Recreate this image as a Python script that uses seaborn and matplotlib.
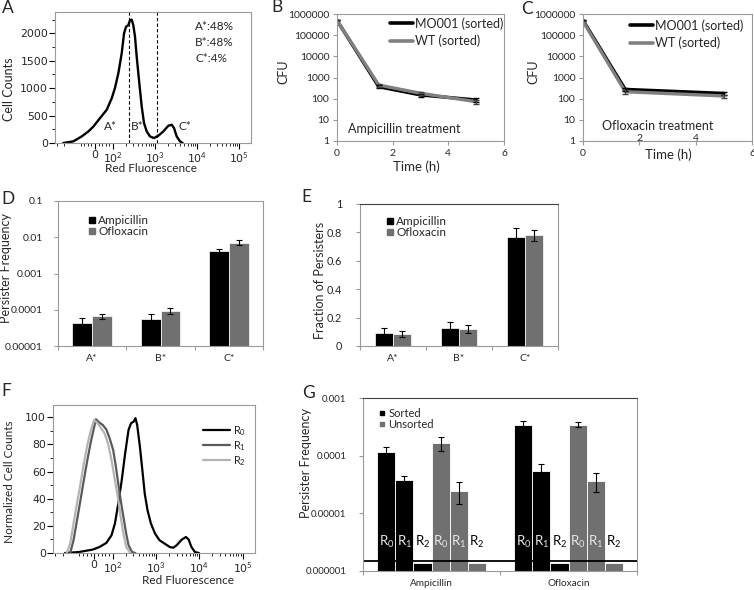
import matplotlib
matplotlib.use("Agg")
import matplotlib.pyplot as plt
import numpy as np
import pandas as pd
import seaborn as sns
from matplotlib.ticker import FixedLocator, NullLocator, MultipleLocator
from matplotlib.lines import Line2D

# ---------------- Panel A : flow histogram ----------------
a_fluor = [-212, -122, -74, -37, -9, 28, 65, 93, 111, 134, 161, 183, 204, 231,
           254, 278, 304, 334, 366, 423, 482, 547, 634, 760, 946, 1200, 1578,
           2075, 2500, 2833, 3283, 3935, 4560]
a_counts = [0, 30, 120, 210, 300, 455, 606, 818, 1000, 1273, 1636, 2000, 2120,
            2150, 2240, 2250, 2150, 1940, 1576, 1090, 666, 364, 212, 120, 90,
            133, 212, 315, 333, 273, 120, 30, 0]
a_gates = [240, 1110]
a_gate_names = ["A*", "B*", "C*"]
a_gate_pcts = ["A*:48%", "B*:48%", "C*:4%"]
flow_ticks = [0, 1e2, 1e3, 1e4, 1e5]
flow_tick_labels = ["0", "10$^2$", "10$^3$", "10$^4$", "10$^5$"]

# ---------------- Panels B, C : killing curves ----------------
strains = ["MO001 (sorted)", "WT (sorted)"]
b_time = [0, 1.5, 3, 5]
b_mo001 = [5.0e5, 365, 150, 87]
b_mo001_err = [0, 60, 25, 15]
b_wt = [5.0e5, 440, 180, 72]
b_wt_err = [0, 70, 30, 18]
c_time = [0, 1.5, 5]
c_mo001 = [5.0e5, 275, 178]
c_mo001_err = [0, 45, 25]
c_wt = [4.5e5, 213, 134]
c_wt_err = [0, 40, 22]
cfu_ticks = [1, 10, 100, 1000, 10000, 100000, 1000000]
cfu_labels = ["1", "10", "100", "1000", "10000", "100000", "1000000"]
time_ticks = [0, 2, 4, 6]

# ---------------- Panels D, E : persisters per gate ----------------
populations = ["A*", "B*", "C*"]
antibiotics = ["Ampicillin", "Ofloxacin"]
d_amp = [4.4e-5, 5.7e-5, 4.1e-3]
d_amp_err = [1.5e-5, 1.8e-5, 7e-4]
d_oflox = [6.7e-5, 9.4e-5, 7.1e-3]
d_oflox_err = [1.1e-5, 2.0e-5, 1.1e-3]
d_ticks = [1e-5, 1e-4, 1e-3, 1e-2, 1e-1]
d_labels = ["0.00001", "0.0001", "0.001", "0.01", "0.1"]
e_amp = [0.094, 0.127, 0.765]
e_amp_err = [0.03, 0.04, 0.068]
e_oflox = [0.085, 0.12, 0.78]
e_oflox_err = [0.02, 0.026, 0.04]
e_ticks = [0, 0.2, 0.4, 0.6, 0.8, 1.0]
e_labels = ["0", "0.2", "0.4", "0.6", "0.8", "1"]

# ---------------- Panel F : regrowth histograms ----------------
f_regions = ["R$_0$", "R$_1$", "R$_2$"]
f_r0_fluor = [-176, -83, -9, 28, 65, 93, 112, 134, 161, 193, 231, 264, 304, 334,
              366, 423, 482, 547, 634, 760, 946, 1200, 1578, 2075, 2500, 2983,
              3935, 4900, 5660, 6560, 7900, 9800]
f_r0_counts = [0, 0.7, 2.5, 4.4, 7.4, 13, 21.7, 36.5, 53.7, 73.4, 90.6, 95.6,
               96.8, 99.3, 94.3, 78.3, 61, 43.8, 31.5, 21.7, 14.3, 9.4, 6.9,
               4.4, 3.9, 5.7, 9.9, 11.8, 9.9, 4.4, 0.7, 0]
f_r1_fluor = [-134, -112, -93, -74, -56, -37, -18, 0, 9, 28, 46, 65, 83, 102,
              118, 134, 152, 176, 204, 231, 278, 334]
f_r1_counts = [0, 9.4, 24, 39, 53.7, 68.5, 82, 93, 98.5, 96, 94.3, 91, 84.5,
               75.9, 63.5, 51, 39, 26.6, 14.3, 5.7, 0.7, 0]
f_r2_fluor = [-161, -134, -112, -93, -74, -56, -37, -18, 0, 18, 37, 56, 74, 93,
              112, 134, 152, 176, 204, 254]
f_r2_counts = [0, 6.9, 21.7, 36.5, 51, 66, 79.6, 90.6, 98, 95.6, 92, 88, 80.8,
               68.5, 53.7, 39, 26.6, 14.3, 4.4, 0]

# ---------------- Panel G : sorted vs unsorted ----------------
g_groups = ["Sorted R0", "Sorted R1", "Sorted R2",
            "Unsorted R0", "Unsorted R1", "Unsorted R2"]
g_bar_labels = ["R$_0$", "R$_1$", "R$_2$", "R$_0$", "R$_1$", "R$_2$"]
g_amp = [1.18e-4, 3.79e-5, 1.4e-6, 1.64e-4, 2.44e-5, 1.4e-6]
g_amp_err = [2.6e-5, 6.6e-6, 0, 4.5e-5, 1.0e-5, 0]
g_oflox = [3.34e-4, 5.5e-5, 1.4e-6, 3.43e-4, 3.64e-5, 1.4e-6]
g_oflox_err = [6e-5, 1.7e-5, 0, 3.3e-5, 1.3e-5, 0]
g_limit = 1.5e-6
g_ticks = [1e-6, 1e-5, 1e-4, 1e-3]
g_labels = ["0.000001", "0.00001", "0.0001", "0.001"]
g_legend = ["Sorted", "Unsorted"]

# ---------------- style ----------------
sns.set_theme(style="ticks")
plt.rcParams["font.family"] = ["Lato", "DejaVu Sans"]
plt.rcParams["mathtext.fontset"] = "custom"
plt.rcParams["mathtext.rm"] = "Lato"
plt.rcParams["mathtext.it"] = "Lato:italic"
plt.rcParams["mathtext.bf"] = "Lato:bold"
plt.rcParams["axes.linewidth"] = 0.8

W, H = 754, 590
fig = plt.figure(figsize=(W / 100, H / 100), dpi=100)
fig.patch.set_facecolor("white")

FRAME = "#9a9a9a"
BAR_GRAY = "#707070"
LINE_GRAY = "#808080"


def px_rect(l, r, t, b):
    return [l / W, 1 - b / H, (r - l) / W, (b - t) / H]


def ftext(x, y, s, **kw):
    kw.setdefault("va", "center")
    fig.text(x / W, 1 - y / H, s, **kw)


def frame(ax, color=FRAME, top=None):
    for name, sp in ax.spines.items():
        sp.set_visible(True)
        sp.set_color(color)
        sp.set_linewidth(0.8)
    if top is not None:
        ax.spines["top"].set_color(top)


def place_ylabel(ax, text, x, y, size):
    ax.set_ylabel(text, fontsize=size)
    ax.yaxis.set_label_coords(x / W, 1 - y / H, transform=fig.transFigure)
    lab = ax.yaxis.label
    lab.set_rotation_mode("default")
    lab.set_ha("center")
    lab.set_va("center")


def place_xlabel(ax, text, x, y, size):
    ax.set_xlabel(text, fontsize=size)
    ax.xaxis.set_label_coords(x / W, 1 - y / H, transform=fig.transFigure)
    lab = ax.xaxis.label
    lab.set_ha("center")
    lab.set_va("center")


def flow_axis(ax):
    ax.set_xscale("symlog", linthresh=100, linscale=0.386)
    ax.set_xlim(-334, 1.93e5)
    ax.set_xticks(flow_ticks, flow_tick_labels)
    minor = [-300, -200, -80, -60, -40, -20, 20, 40, 60, 80] + \
        [k * 10 ** d for d in (2, 3, 4) for k in range(2, 10)]
    ax.xaxis.set_minor_locator(FixedLocator(minor))
    ax.tick_params(axis="both", which="major", direction="out", length=4,
                   width=0.8, color="black", labelsize=7.8, pad=1,
                   labelfontfamily="DejaVu Sans")
    ax.tick_params(axis="both", which="minor", direction="out", length=2,
                   width=0.6, color="black")
    frame(ax)


def add_err(ax, containers, errs):
    for cont, err in zip(containers, errs):
        xs, ys, es = [], [], []
        for bar, e in zip(cont, err):
            if e > 0:
                xs.append(bar.get_x() + bar.get_width() / 2)
                ys.append(bar.get_height())
                es.append(e)
        ax.errorbar(xs, ys, yerr=es, fmt="none", ecolor="black",
                    elinewidth=0.8, capsize=2.2, capthick=0.8)


def cat_axis(ax, n, labelsize, ypad):
    ax.tick_params(axis="x", which="major", length=0, labelsize=labelsize, pad=6)
    ax.xaxis.set_minor_locator(FixedLocator([i - 0.5 for i in range(n + 1)]))
    ax.tick_params(axis="x", which="minor", direction="out", length=3,
                   width=0.8, color=FRAME)
    ax.tick_params(axis="y", which="major", direction="out", length=3,
                   width=0.8, color=FRAME, pad=ypad)
    ax.tick_params(axis="y", which="minor", length=0)
    ax.set_xlim(-0.5, n - 0.5)


# ================= Panel A =================
axA = fig.add_axes(px_rect(55, 251, 12, 143))
sns.lineplot(x=a_fluor, y=a_counts, sort=False, estimator=None,
             color="black", lw=1.7, ax=axA)
for g in a_gates:
    axA.axvline(g, color="black", lw=0.8, ls=(0, (3, 2)))
flow_axis(axA)
axA.set_ylim(0, 2390)
axA.set_yticks([0, 500, 1000, 1500, 2000])
axA.yaxis.set_minor_locator(MultipleLocator(250))
place_ylabel(axA, "Cell Counts", 9, 89, 9)
place_xlabel(axA, "Red Fluorescence", 151, 169, 8.5)
for name, x in zip(a_gate_names, [110, 137, 185]):
    ftext(x, 127, name, fontsize=8.5, ha="center")
for i, s in enumerate(a_gate_pcts):
    ftext(195, 27 + 16 * i, s, fontsize=8.5, ha="left")


# ================= Panels B, C =================
def kill_panel(rect, t, mo, mo_err, wt, wt_err, title, title_xy, leg_xy,
               ylab_x, xlab_xy):
    ax = fig.add_axes(rect)
    df = pd.DataFrame({"time": t + t, "cfu": mo + wt,
                       "strain": [strains[0]] * len(t) + [strains[1]] * len(t)})
    sns.lineplot(data=df, x="time", y="cfu", hue="strain",
                 palette={strains[0]: "black", strains[1]: LINE_GRAY},
                 lw=2.4, estimator=None, legend=False, ax=ax)
    ax.set_yscale("log")
    ax.errorbar(t, mo, yerr=mo_err, fmt="none", ecolor="black",
                elinewidth=0.8, capsize=2)
    ax.errorbar(t, wt, yerr=wt_err, fmt="none", ecolor="#404040",
                elinewidth=0.8, capsize=2)
    ax.set_ylim(1, 1e6)
    ax.set_xlim(0, 6)
    ax.set_yticks(cfu_ticks, cfu_labels)
    ax.yaxis.set_minor_locator(NullLocator())
    ax.set_xticks(time_ticks, [str(v) for v in time_ticks])
    ax.tick_params(axis="both", which="major", direction="out", length=3,
                   width=0.8, color=FRAME, labelsize=7.5, pad=2.5)
    frame(ax)
    place_ylabel(ax, "CFU", ylab_x, 72, 9)
    place_xlabel(ax, "Time (h)", xlab_xy[0], xlab_xy[1], 9.5)
    handles = [Line2D([], [], color="black", lw=2.6),
               Line2D([], [], color=LINE_GRAY, lw=2.6)]
    ax.legend(handles, strains, loc="upper left",
              bbox_to_anchor=(leg_xy[0] / W, 1 - leg_xy[1] / H),
              bbox_transform=fig.transFigure, frameon=False, fontsize=9,
              handlelength=1.85, handletextpad=0.15, borderpad=0,
              borderaxespad=0, labelspacing=0.42)
    ftext(title_xy[0], title_xy[1], title, fontsize=9, ha="left")
    return ax


axB = kill_panel(px_rect(337, 504, 14, 141), b_time, b_mo001, b_mo001_err,
                 b_wt, b_wt_err, "Ampicillin treatment", (348, 129),
                 (390, 17), 283, (416, 167))
axC = kill_panel(px_rect(583, 752, 14, 141), c_time, c_mo001, c_mo001_err,
                 c_wt, c_wt_err, "Ofloxacin treatment", (602, 126),
                 (630, 19), 533, (668, 155))
# in the reference the "2" and "4" labels of panel C sit slightly higher
for tk in axC.xaxis.get_major_ticks()[1:3]:
    tk.set_pad(-8)


# ================= Panels D, E =================
def square_legend(ax, labels, colors, xy, size, msize):
    handles = [Line2D([], [], marker="s", ls="", color=c, markersize=msize)
               for c in colors]
    ax.legend(handles, labels, loc="upper left",
              bbox_to_anchor=(xy[0] / W, 1 - xy[1] / H),
              bbox_transform=fig.transFigure, frameon=False, fontsize=size,
              handlelength=0.6, handletextpad=0.25, borderpad=0,
              borderaxespad=0, labelspacing=0.0)


def gate_bars(rect, amp, oflox, amp_err, oflox_err, width, log):
    ax = fig.add_axes(rect)
    df = pd.DataFrame({"population": populations * 2,
                       "antibiotic": [antibiotics[0]] * 3 + [antibiotics[1]] * 3,
                       "value": amp + oflox})
    sns.barplot(data=df, x="population", y="value", hue="antibiotic",
                order=populations, hue_order=antibiotics,
                palette={antibiotics[0]: "black", antibiotics[1]: BAR_GRAY},
                width=width, errorbar=None, edgecolor="white", linewidth=0.5,
                legend=False, ax=ax)
    bars = list(ax.containers)
    if log:
        ax.set_yscale("log")
    add_err(ax, bars, [amp_err, oflox_err])
    ax.set_xlabel("")
    ax.set_ylabel("")
    return ax


axD = gate_bars(px_rect(58, 263, 201, 346), d_amp, d_oflox, d_amp_err,
                d_oflox_err, 0.58, True)
cat_axis(axD, 3, 7.5, 8)
axD.set_ylim(1e-5, 0.1)
axD.set_yticks(d_ticks, d_labels)
axD.yaxis.set_minor_locator(NullLocator())
axD.tick_params(axis="y", labelsize=7.5)
frame(axD)
place_ylabel(axD, "Persister Frequency", 6, 268, 9)
square_legend(axD, antibiotics, ["black", BAR_GRAY], (88, 215), 8.5, 5)

axE = gate_bars(px_rect(360, 558, 204, 346), e_amp, e_oflox, e_amp_err,
                e_oflox_err, 0.55, False)
cat_axis(axE, 3, 7.5, 10)
axE.set_ylim(0, 1)
axE.set_yticks(e_ticks, e_labels)
axE.tick_params(axis="y", labelsize=7.8)
frame(axE, top="#404040")
place_ylabel(axE, "Fraction of Persisters", 320, 280, 9)
square_legend(axE, antibiotics, ["black", BAR_GRAY], (386, 216), 8.5, 5)


# ================= Panel F =================
axF = fig.add_axes(px_rect(53, 255, 405, 553))
dfF = pd.DataFrame({
    "fluor": f_r0_fluor + f_r1_fluor + f_r2_fluor,
    "count": f_r0_counts + f_r1_counts + f_r2_counts,
    "region": [f_regions[0]] * len(f_r0_fluor) + [f_regions[1]] * len(f_r1_fluor)
    + [f_regions[2]] * len(f_r2_fluor)})
f_palette = {f_regions[0]: "black", f_regions[1]: "#5a5a5a",
             f_regions[2]: "#b4b4b4"}
sns.lineplot(data=dfF, x="fluor", y="count", hue="region", palette=f_palette,
             sort=False, estimator=None, lw=1.6, legend=False, ax=axF)
flow_axis(axF)
axF.set_ylim(0, 109)
axF.set_yticks([0, 20, 40, 60, 80, 100])
axF.yaxis.set_minor_locator(MultipleLocator(10))
place_ylabel(axF, "Normalized Cell Counts", 10, 482, 8.5)
place_xlabel(axF, "Red Fluorescence", 188, 580, 8.5)
handles = [Line2D([], [], color=f_palette[r], lw=1.6) for r in f_regions]
axF.legend(handles, f_regions, loc="upper left",
           bbox_to_anchor=(203 / W, 1 - 424 / H), bbox_transform=fig.transFigure,
           frameon=False, fontsize=7.8, handlelength=2.5, handletextpad=0.3,
           borderpad=0, borderaxespad=0, labelspacing=0.1)


# ================= Panel G =================
axG = fig.add_axes(px_rect(363, 637, 398, 571))
rows = []
for i, grp in enumerate(g_groups):
    rows.append({"antibiotic": antibiotics[0], "group": grp, "freq": g_amp[i]})
    rows.append({"antibiotic": antibiotics[1], "group": grp, "freq": g_oflox[i]})
dfG = pd.DataFrame(rows)
g_palette = {grp: ("black" if grp.startswith("Sorted") else BAR_GRAY)
             for grp in g_groups}
sns.barplot(data=dfG, x="antibiotic", y="freq", hue="group",
            order=antibiotics, hue_order=g_groups, palette=g_palette,
            width=0.79, errorbar=None, edgecolor="white", linewidth=0.6,
            legend=False, ax=axG)
g_bars = list(axG.containers)
axG.set_yscale("log")
add_err(axG, g_bars, [[g_amp_err[i], g_oflox_err[i]] for i in range(6)])
axG.axhline(g_limit, color="black", lw=1.3)
for i, cont in enumerate(g_bars):
    for bar in cont:
        axG.text(bar.get_x() + bar.get_width() / 2, 3.2e-6, g_bar_labels[i],
                 ha="center", va="center", fontsize=9.5,
                 color=("black" if i in (2, 5) else "#e8e8e8"))
axG.set_ylim(1e-6, 1e-3)
axG.set_yticks(g_ticks, g_labels)
axG.set_xlabel("")
axG.set_ylabel("")
cat_axis(axG, 2, 7.2, 9)
axG.yaxis.set_minor_locator(NullLocator())
axG.tick_params(axis="y", labelsize=7)
frame(axG, top="#404040")
place_ylabel(axG, "Persister Frequency", 306, 463, 9)
square_legend(axG, g_legend, ["black", BAR_GRAY], (379, 408), 8, 3.5)

# ================= panel letters =================
for letter, x, y in [("A", 2, 8), ("B", 271, 7), ("C", 521, 9), ("D", 1, 199),
                     ("E", 301, 197), ("F", 1, 391), ("G", 302, 393)]:
    ftext(x, y, letter, fontsize=12.5, ha="left")

fig.savefig("out.png", dpi=100, facecolor="white")
